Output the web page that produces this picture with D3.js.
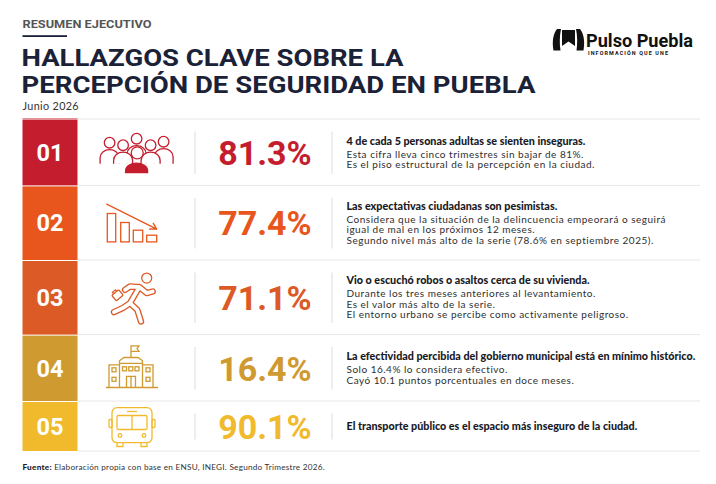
<!DOCTYPE html>
<html>
<head>
<meta charset="utf-8">
<script src="https://cdn.jsdelivr.net/npm/d3@7"></script>
<style>
  body { margin: 0; background: #fff; }
  svg { display: block; font-family: Lato, "Open Sans", sans-serif; }
</style>
</head>
<body>
<svg id="chart"></svg>
<script>
const width = 716;
const height = 484;

// ----- DATA -----
const ids = ["01", "02", "03", "04", "05"];
const values = [81.3, 77.4, 71.1, 16.4, 90.1];
const icons = ["people", "trend", "runner", "building", "bus"];
const headings = [
  "4 de cada 5 personas adultas se sienten inseguras.",
  "Las expectativas ciudadanas son pesimistas.",
  "Vio o escuchó robos o asaltos cerca de su vivienda.",
  "La efectividad percibida del gobierno municipal está en mínimo histórico.",
  "El transporte público es el espacio más inseguro de la ciudad."
];
const bodies = [
  ["Esta cifra lleva cinco trimestres sin bajar de 81%.",
   "Es el piso estructural de la percepción en la ciudad."],
  ["Considera que la situación de la delincuencia empeorará o seguirá",
   "igual de mal en los próximos 12 meses.",
   "Segundo nivel más alto de la serie (78.6% en septiembre 2025)."],
  ["Durante los tres meses anteriores al levantamiento.",
   "Es el valor más alto de la serie.",
   "El entorno urbano se percibe como activamente peligroso."],
  ["Solo 16.4% lo considera efectivo.",
   "Cayó 10.1 puntos porcentuales en doce meses."],
  []
];
const palette = ["#c41e2e", "#e8561e", "#dc5a26", "#cf9a30", "#f1ba2c"];

const navy = "#1b2238";

const svg = d3.select("#chart")
  .attr("width", width)
  .attr("height", height)
  .attr("viewBox", [0, 0, width, height]);

const color = d3.scaleOrdinal().domain(ids).range(palette);
const fmt = d => d3.format(".1f")(d) + "%";

// ----- HEADER -----
svg.append("text")
  .attr("x", 22.5).attr("y", 27.5)
  .attr("font-family", "Roboto, sans-serif")
  .attr("font-size", 10.5).attr("font-weight", 700)
  .attr("textLength", 129).attr("lengthAdjust", "spacingAndGlyphs")
  .attr("fill", "#555")
  .text("RESUMEN EJECUTIVO");

svg.append("rect")
  .attr("x", 22.5).attr("y", 35.2).attr("width", 44.5).attr("height", 1.8)
  .attr("fill", navy);

const title = svg.append("text")
  .attr("font-family", "Roboto, sans-serif")
  .attr("font-weight", 700)
  .attr("font-size", 24.5)
  .attr("fill", navy);
title.append("tspan").attr("x", 21.5).attr("y", 66)
  .attr("textLength", 382).attr("lengthAdjust", "spacingAndGlyphs")
  .text("HALLAZGOS CLAVE SOBRE LA");
title.append("tspan").attr("x", 21.5).attr("y", 92.5)
  .attr("textLength", 514).attr("lengthAdjust", "spacingAndGlyphs")
  .text("PERCEPCIÓN DE SEGURIDAD EN PUEBLA");

svg.append("text")
  .attr("x", 22.5).attr("y", 110)
  .attr("font-size", 10.8)
  .attr("letter-spacing", 0.35)
  .attr("fill", "#333")
  .text("Junio 2026");

// logo
const logo = svg.append("g").attr("fill", "#111");
logo.append("path")
  .attr("d", "M553.5,50.5 C552,42 553,34 557,29 L561,29 C559.5,36 559.5,44 560.5,50.5 Z " +
             "M583.5,50.5 C585,42 584,34 580,29 L576,29 C577.5,36 577.5,44 576.5,50.5 Z " +
             "M562,30 L575,30 L575,46 L568.5,41.5 L562,46 Z");
logo.append("text")
  .attr("x", 586).attr("y", 46.5)
  .attr("font-family", "Roboto, sans-serif")
  .attr("font-weight", 700).attr("font-size", 17.5)
  .attr("textLength", 107).attr("lengthAdjust", "spacingAndGlyphs")
  .text("Pulso Puebla");
logo.append("text")
  .attr("x", 588).attr("y", 54.5)
  .attr("font-family", "Roboto, sans-serif")
  .attr("font-weight", 700).attr("font-size", 5.4)
  .attr("textLength", 80).attr("lengthAdjust", "spacing")
  .text("INFORMACIÓN QUE UNE");

// ----- ROWS -----
const tableTop = 119.5;
const tableLeft = 22.5;
const boxW = 55;
const tableRight = 700;
const iconX = 132;
const valueX = 265;
const sep1 = 195;
const sep2 = 332;
const textX = 346.5;
const textW = 350;

const rowH = bodies.map(b => 50 + 8.2 * b.length);
const rowY = rowH.map((h, i) => tableTop + d3.sum(rowH.slice(0, i)));

svg.append("line")
  .attr("x1", tableLeft).attr("x2", tableRight)
  .attr("y1", tableTop - 0.5).attr("y2", tableTop - 0.5)
  .attr("stroke", "#e6e6e6");
svg.append("line")
  .attr("x1", tableLeft).attr("x2", tableLeft + boxW)
  .attr("y1", tableTop - 0.5).attr("y2", tableTop - 0.5)
  .attr("stroke", "#e0707a").attr("stroke-width", 1.5);

const rows = svg.selectAll("g.row")
  .data(ids.map((id, i) => ({
    id, value: values[i], icon: icons[i], heading: headings[i], body: bodies[i],
    y: rowY[i], h: rowH[i]
  })))
  .join("g")
  .attr("class", "row")
  .attr("transform", d => `translate(0,${d.y})`);

// row bottom rule
rows.append("line")
  .attr("x1", tableLeft + boxW).attr("x2", tableRight)
  .attr("y1", d => d.h - 0.5).attr("y2", d => d.h - 0.5)
  .attr("stroke", "#e8e8e8");

// number box
rows.append("rect")
  .attr("x", tableLeft).attr("y", 0.5)
  .attr("width", boxW).attr("height", d => d.h - 1)
  .attr("fill", d => color(d.id));

rows.append("text")
  .attr("x", tableLeft + boxW / 2)
  .attr("y", d => d.h / 2)
  .attr("dy", "0.35em")
  .attr("text-anchor", "middle")
  .attr("font-family", "Roboto, sans-serif")
  .attr("font-weight", 700).attr("font-size", 23.5)
  .attr("fill", "#fff")
  .text(d => d.id);

// separators
[sep1, sep2].forEach(x => {
  rows.append("line")
    .attr("x1", x).attr("x2", x)
    .attr("y1", 12).attr("y2", d => d.h - 12)
    .attr("stroke", "#dcdcdc");
});

// value
rows.append("text")
  .attr("x", valueX)
  .attr("y", d => d.h / 2)
  .attr("dy", "0.36em")
  .attr("text-anchor", "middle")
  .attr("font-family", "Roboto, sans-serif")
  .attr("font-weight", 700).attr("font-size", 34)
  .attr("fill", d => color(d.id))
  .text(d => fmt(d.value));

// texts
const headLines = [];
rows.each(function (d) {
  const g = d3.select(this);
  const n = d.body.length;
  const headGap = 13.3, lineGap = 10.5;
  const block = n ? headGap + (n - 1) * lineGap : 0;
  const y0 = d.h / 2 - block / 2;
  headLines.push(g.append("text")
    .attr("x", textX).attr("y", y0).attr("dy", "0.35em")
    .attr("font-size", 10).attr("font-weight", 900)
    .attr("fill", "#1a1a26")
    .text(d.heading));
  g.selectAll("text.body")
    .data(d.body)
    .join("text")
    .attr("class", "body")
    .attr("x", textX)
    .attr("y", (t, j) => y0 + headGap + j * lineGap)
    .attr("dy", "0.35em")
    .attr("font-size", 10)
    .attr("letter-spacing", 0.5)
    .attr("fill", "#2e2e2e")
    .text(t => t);
});

// fit the headings to the text column
const widest = d3.max(headLines, t => t.node().getComputedTextLength());
const headSize = Math.min(11.5, 10 * (textW - 1) / widest);
headLines.forEach(t => t.attr("font-size", headSize));

// ----- ICONS -----
const drawIcon = {
  people(g, c) {
    const p = g.append("g").attr("transform", "translate(4.6,0)");
    const back = [[0, -14], [-27, -10], [27, -11], [-13.5, -7.5], [14, -7.5]];
    back.forEach(([x, y]) => {
      p.append("path")
        .attr("d", `M${x - 9.5},11 V${y + 15} A9.5,8 0 0 1 ${x + 9.5},${y + 15} V11`)
        .attr("fill", "#fff").attr("stroke", c);
      p.append("circle").attr("cx", x).attr("cy", y).attr("r", 5.3)
        .attr("fill", "#fff").attr("stroke", c);
    });
    p.append("path")
      .attr("d", "M-11,20 V18 A11,7.5 0 0 1 11,18 V20 Z")
      .attr("fill", c).attr("stroke", c);
    p.append("circle").attr("cx", 0.6).attr("cy", 0.2).attr("r", 6)
      .attr("fill", "#fff").attr("stroke", c);
  },
  trend(g, c) {
    [[-24.7, -9.7, 8.4], [-11.3, -0.7, 8.6], [1.3, 7, 9.4], [14.7, 12, 10]].forEach(([x, y, w]) => {
      g.append("rect").attr("x", x).attr("y", y).attr("width", w).attr("height", 18.7 - y)
        .attr("fill", "none").attr("stroke", c);
    });
    g.append("path")
      .attr("d", "M-25.3,-19 L24.7,6 M24.7,6 L17.6,5.8 M24.7,6 L21.2,0")
      .attr("fill", "none").attr("stroke", c).attr("stroke-linecap", "round");
  },
  runner(g, c) {
    const limbs = [
      "M7.3,-10.7 L-2,5.3",
      "M7.3,-10.7 L-2,-11.3 L-7,-8",
      "M7.3,-10.7 L14.7,-4.7 L20.7,-6.3",
      "M-2,5.3 L-9.3,10.3 L-18,14.3",
      "M-2,5.3 L5.3,12 L9,23.7"
    ].join(" ");
    g.append("path").attr("d", limbs).attr("fill", "none")
      .attr("stroke", c).attr("stroke-width", 6.4)
      .attr("stroke-linecap", "round").attr("stroke-linejoin", "round");
    g.append("path").attr("d", limbs).attr("fill", "none")
      .attr("stroke", "#fff").attr("stroke-width", 3.8)
      .attr("stroke-linecap", "round").attr("stroke-linejoin", "round");
    g.append("circle").attr("cx", 14.7).attr("cy", -19.7).attr("r", 5)
      .attr("fill", "#fff").attr("stroke", c);
    const bag = g.append("g").attr("transform", "translate(-14.5,-2.5) rotate(-40)");
    bag.append("rect").attr("x", -4.5).attr("y", -3.5).attr("width", 9).attr("height", 7).attr("rx", 1)
      .attr("fill", "#fff").attr("stroke", c);
    bag.append("path").attr("d", "M-2,-3.5 V-5.5 H2 V-3.5").attr("fill", "none").attr("stroke", c);
  },
  building(g, c) {
    const s = g.append("g").attr("fill", "none").attr("stroke", c);
    s.append("line").attr("x1", -26).attr("x2", 26).attr("y1", 19.2).attr("y2", 19.2);
    s.append("path").attr("d", "M-1,-10.8 V-22.5 H7 L5,-19.7 L7,-17 H-1");
    s.append("path").attr("d", "M-12.5,19.2 V-7.5 L-8,-10.8 H6 L10.5,-7.5 V19.2 M-12.5,-5 H10.5");
    s.append("path").attr("d", "M-12.5,-3.5 H-23 V19.2 M10.5,-3.5 H21 V19.2");
    [[-9.5, -1.5], [-3.2, -1.5], [3, -1.5], [-20, -0.5], [-20, 9], [14, -0.5], [14, 9]].forEach(([x, y]) => {
      s.append("rect").attr("x", x).attr("y", y).attr("width", 4).attr("height", 4);
    });
    s.append("path").attr("d", "M-5.5,19.2 V8 H3.5 V19.2 M-1,8 V19.2");
  },
  bus(g, c) {
    const s = g.append("g").attr("fill", "none").attr("stroke", c);
    s.append("rect").attr("x", -20).attr("y", -18.8).attr("width", 40).attr("height", 35).attr("rx", 5);
    s.append("rect").attr("x", -15).attr("y", -11).attr("width", 30).attr("height", 14).attr("rx", 1.5);
    s.append("line").attr("x1", 0).attr("x2", 0).attr("y1", -11).attr("y2", 3);
    s.append("line").attr("x1", -5).attr("x2", 5).attr("y1", -15).attr("y2", -15);
    s.append("rect").attr("x", -23).attr("y", -7).attr("width", 3).attr("height", 8).attr("rx", 1);
    s.append("rect").attr("x", 20).attr("y", -7).attr("width", 3).attr("height", 8).attr("rx", 1);
    s.append("circle").attr("cx", -12).attr("cy", 9).attr("r", 1.8);
    s.append("circle").attr("cx", 12).attr("cy", 9).attr("r", 1.8);
    s.append("path").attr("d", "M-15,16.2 V20 H-9 V16.2 M9,16.2 V20 H15 V16.2");
  }
};

rows.each(function (d) {
  const g = d3.select(this).append("g")
    .attr("transform", `translate(${iconX},${d.h / 2})`)
    .attr("stroke-width", 1.3);
  drawIcon[d.icon](g, color(d.id));
});

// ----- FOOTER -----
const foot = svg.append("text")
  .attr("x", 22.5).attr("y", 469.5)
  .attr("font-size", 8.2)
  .attr("letter-spacing", 0.25)
  .attr("fill", "#333");
foot.append("tspan").attr("font-weight", 900).attr("fill", "#1a1a26").text("Fuente:");
foot.append("tspan").text(" Elaboración propia con base en ENSU, INEGI. Segundo Trimestre 2026.");
</script>
</body>
</html>
